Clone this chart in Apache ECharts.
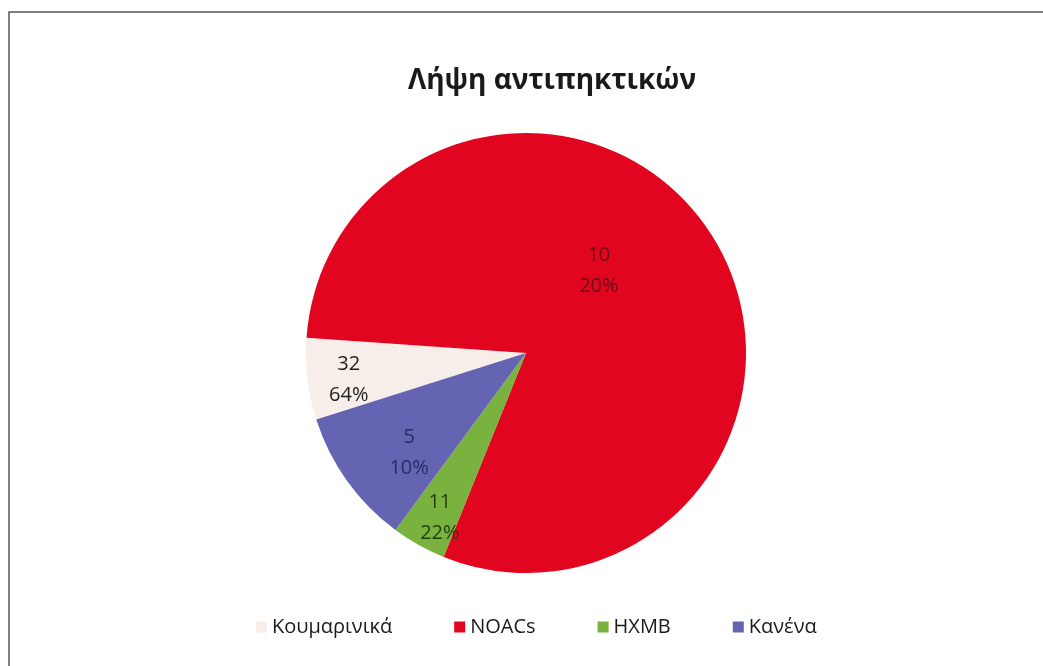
<!DOCTYPE html>
<html>
<head>
<meta charset="utf-8">
<script src="https://cdn.jsdelivr.net/npm/echarts@6/dist/echarts.min.js"></script>
<style>
html,body{margin:0;padding:0;background:#fff;}
#chart{width:1043px;height:666px;}
</style>
</head>
<body>
<div id="chart"></div>
<script>
// Slice sizes as drawn (6%, 80%, 4%, 10% of 50)
const categories = ['Κουμαρινικά', 'NOACs', 'HXMB', 'Κανένα'];
const sliceValues = [3, 40, 2, 5];
// Label texts as printed in the reference
const labelValues = [32, 10, 11, 5];
const labelPercents = [64, 20, 22, 10];
const colors = ['#F8EEE9', '#E2051F', '#79B23F', '#6464B2'];
const labelColors = ['#1e1e1e', '#6a0b14', '#22400e', '#2a2a66'];
const labelShift = [[-65, 13], [-23, -22], [-31, 66], [-25, 34]];

const chart = echarts.init(document.getElementById('chart'));
chart.setOption({
  backgroundColor: '#ffffff',
  animation: false,
  title: {
    text: 'Λήψη αντιπηκτικών',
    left: 403,
    top: 62,
    textStyle: { fontFamily: 'Open Sans', fontWeight: 'bold', fontSize: 28, color: '#1a1a1a' }
  },
  legend: {
    top: 612,
    left: 251,
    itemWidth: 11,
    itemHeight: 11,
    itemGap: 62,
    icon: 'rect',
    data: categories,
    textStyle: { fontFamily: 'Open Sans', fontSize: 20, color: '#1a1a1a' }
  },
  graphic: [{
    type: 'rect',
    shape: { x: 9, y: 12, width: 1100, height: 700 },
    style: { fill: 'none', stroke: '#555', lineWidth: 1.5 },
    silent: true
  }],
  series: [{
    type: 'pie',
    center: [526, 353],
    radius: 220,
    startAngle: 197.6,
    clockwise: true,
    avoidLabelOverlap: false,
    itemStyle: { borderWidth: 0 },
    label: {
      show: true,
      position: 'inside',
      fontFamily: 'Open Sans',
      fontSize: 20,
      lineHeight: 31,
      formatter: p => labelValues[p.dataIndex] + '\n' + labelPercents[p.dataIndex] + '%'
    },
    labelLayout: p => ({ dx: labelShift[p.dataIndex][0], dy: labelShift[p.dataIndex][1] }),
    labelLine: { show: false },
    data: categories.map((c, i) => ({
      name: c,
      value: sliceValues[i],
      itemStyle: { color: colors[i] },
      label: { color: labelColors[i] }
    }))
  }]
});
</script>
</body>
</html>
